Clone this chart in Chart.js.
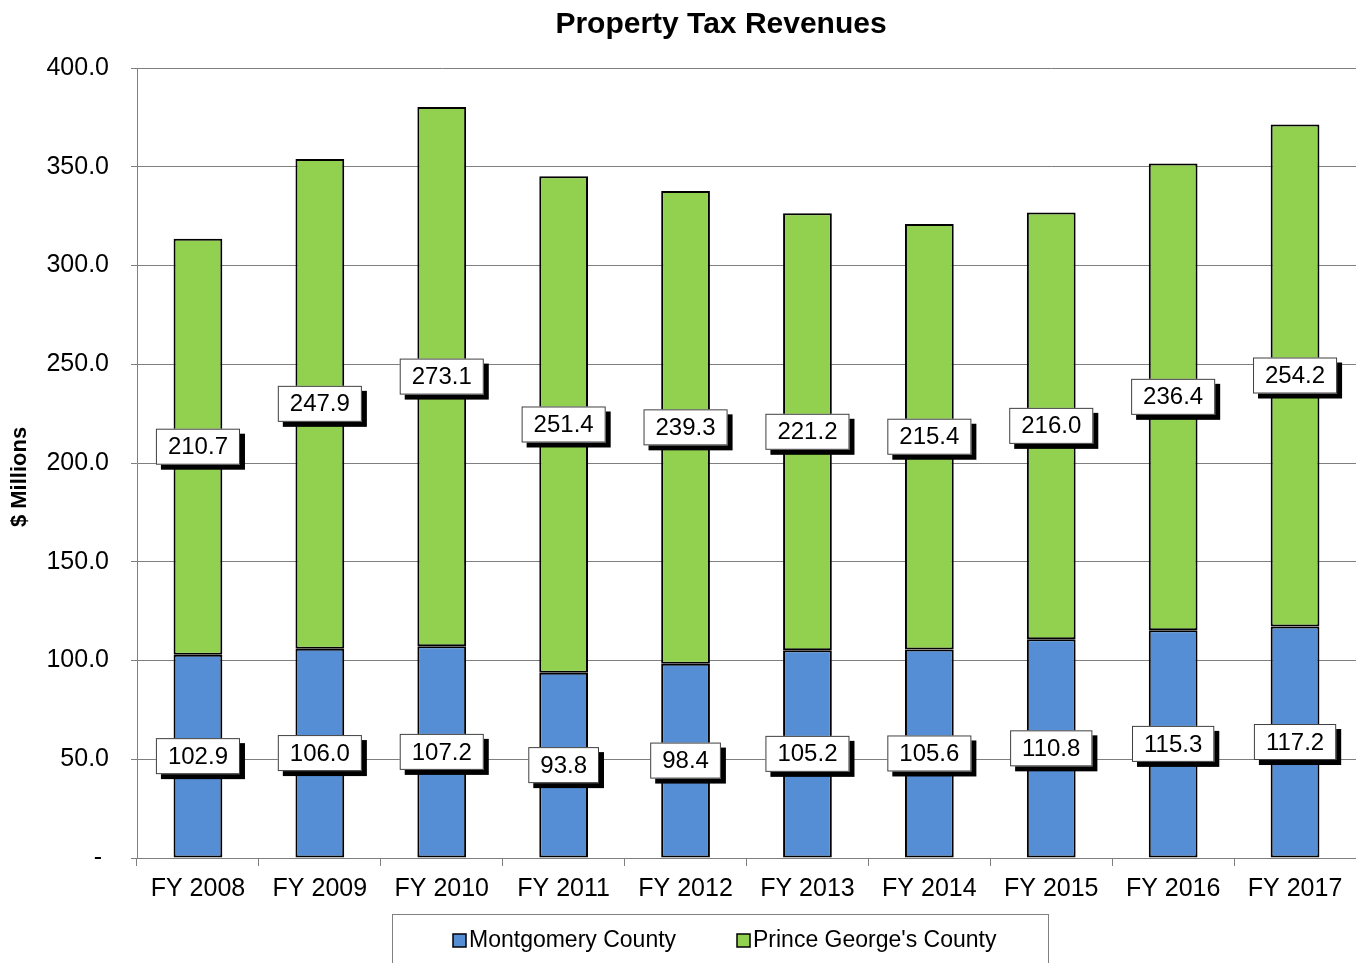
<!DOCTYPE html>
<html lang="en">
<head>
  <meta charset="UTF-8"/>
  <title>Property Tax Revenues</title>
  <style>
    body { margin: 0; padding: 0; background: #fff; }
    #chart { display: block; }
  </style>
</head>
<body>
<canvas id="chart" width="1356" height="963"></canvas>

<script src="https://cdn.jsdelivr.net/npm/chart.js"></script>
<script>
const years = ["FY 2008", "FY 2009", "FY 2010", "FY 2011", "FY 2012", "FY 2013", "FY 2014", "FY 2015", "FY 2016", "FY 2017"];
const montgomery = [102.9, 106.0, 107.2, 93.8, 98.4, 105.2, 105.6, 110.8, 115.3, 117.2];
const princeGeorges = [210.7, 247.9, 273.1, 251.4, 239.3, 221.2, 215.4, 216.0, 236.4, 254.2];
const seriesNames = ["Montgomery County", "Prince George's County"];
const seriesColors = ["#558ED5", "#92D050"];

const FONT = "'Liberation Sans', Arial, sans-serif";
const GRID = "#7f7f7f";

// value boxes, title, y title and the boxed legend
const decorations = {
  id: "decorations",
  afterDatasetsDraw(chart) {
    const ctx = chart.ctx;
    ctx.save();
    ctx.font = "24px " + FONT;
    ctx.textAlign = "center";
    ctx.textBaseline = "middle";
    chart.data.datasets.forEach((ds, di) => {
      const meta = chart.getDatasetMeta(di);
      meta.data.forEach((bar, i) => {
        const txt = ds.data[i].toFixed(1);
        const cy = (bar.y + bar.base) / 2;
        const w = ctx.measureText(txt).width + 24;
        const h = 36;
        const x0 = bar.x - w / 2, y0 = cy - h / 2;
        ctx.fillStyle = "#000";
        ctx.fillRect(x0 + 5, y0 + 5, w, h);
        ctx.fillStyle = "#fff";
        ctx.fillRect(x0, y0, w, h);
        ctx.strokeStyle = "#404040";
        ctx.lineWidth = 1;
        ctx.strokeRect(x0 + 0.5, y0 + 0.5, w - 1, h - 1);
        ctx.fillStyle = "#000";
        ctx.fillText(txt, bar.x, cy + 1);
      });
    });
    ctx.restore();
  },
  afterDraw(chart) {
    const ctx = chart.ctx;
    ctx.save();
    ctx.fillStyle = "#000";
    ctx.textAlign = "center";
    ctx.textBaseline = "middle";
    ctx.font = "bold 30px " + FONT;
    ctx.fillText("Property Tax Revenues", 721, 25);

    ctx.save();
    ctx.translate(20, 477);
    ctx.rotate(-Math.PI / 2);
    ctx.font = "bold 22px " + FONT;
    ctx.fillText("$ Millions", 0, 0);
    ctx.restore();

    // legend frame
    ctx.strokeStyle = "#808080";
    ctx.lineWidth = 1;
    ctx.strokeRect(392.5, 914.5, 656, 60);

    ctx.font = "23px " + FONT;
    ctx.textAlign = "left";
    const itemX = [453, 737];
    seriesNames.forEach((name, i) => {
      const x = itemX[i];
      ctx.fillStyle = seriesColors[i];
      ctx.fillRect(x, 934, 13, 13);
      ctx.strokeStyle = "#000";
      ctx.lineWidth = 1.5;
      ctx.strokeRect(x, 934, 13, 13);
      ctx.fillStyle = "#000";
      ctx.fillText(name, x + 16, 941);
    });
    ctx.restore();
  }
};

new Chart(document.getElementById("chart").getContext("2d"), {
  type: "bar",
  data: {
    labels: years,
    datasets: [
      { label: seriesNames[0], data: montgomery, backgroundColor: seriesColors[0] },
      { label: seriesNames[1], data: princeGeorges, backgroundColor: seriesColors[1] }
    ].map(d => Object.assign(d, {
      borderColor: "#000",
      borderWidth: 2,
      borderSkipped: false,
      barPercentage: 0.4,
      categoryPercentage: 1.0
    }))
  },
  options: {
    responsive: false,
    animation: false,
    layout: { padding: { top: 68, right: 0, bottom: 42, left: 0 } },
    plugins: {
      legend: { display: false },
      title: { display: false },
      tooltip: { enabled: false }
    },
    scales: {
      x: {
        stacked: true,
        afterFit: s => { s.height = 63; },
        grid: {
          offset: true,
          drawOnChartArea: false,
          drawTicks: true,
          tickLength: 8,
          color: GRID
        },
        border: { color: GRID, width: 1 },
        ticks: { color: "#000", font: { family: FONT, size: 25 }, padding: 8 }
      },
      y: {
        stacked: true,
        min: 0,
        max: 400,
        afterFit: s => { s.width = 137; },
        grid: { color: GRID, lineWidth: 1, tickLength: 6 },
        border: { color: GRID, width: 1 },
        ticks: {
          stepSize: 50,
          color: "#000",
          font: { family: FONT, size: 25 },
          padding: 22,
          callback: v => v === 0 ? "- " : v.toFixed(1)
        }
      }
    }
  },
  plugins: [decorations]
});
</script>
</body>
</html>
